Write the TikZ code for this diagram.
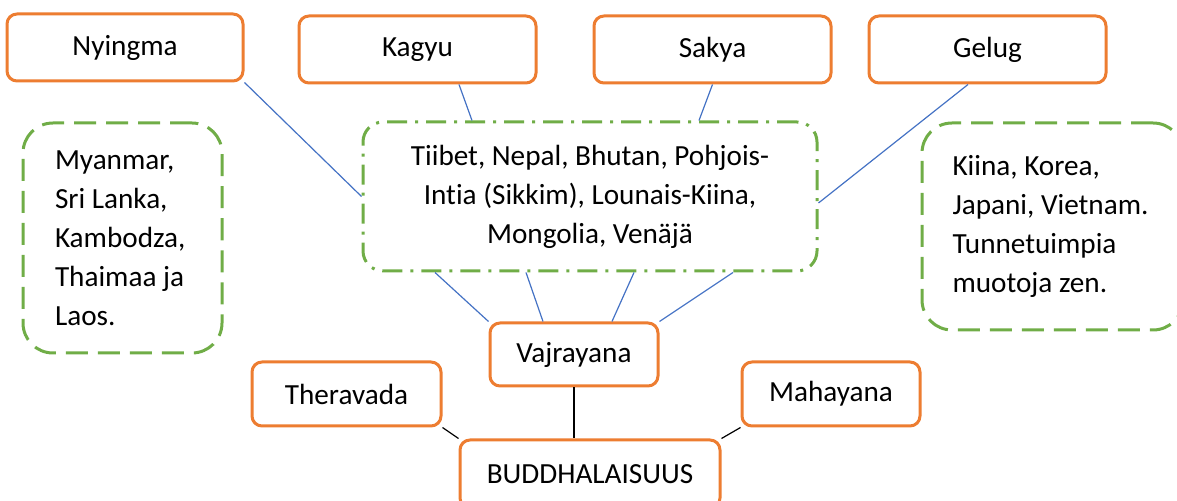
\documentclass[tikz,border=0pt]{standalone}
\usepackage{fontspec}
\setmainfont{Carlito}[Ligatures = NoCommon]
\definecolor{boxorange}{HTML}{ED7D31}
\definecolor{areagreen}{HTML}{70AD47}
\definecolor{linkblue}{HTML}{4472C4}
\begin{document}
\begin{tikzpicture}[x = .5pt, y = -.5pt, font = \fontsize{14.6}{19.5}\selectfont,
  link/.style = {linkblue, line width = .6pt},
  stem/.style = {black, line width = .6pt}]
\def\school{node [draw = boxorange, line width = 1.5pt, rounded corners = 5pt, fill = white, inner sep = 0] }
\def\area{node [draw = areagreen, line width = 1.5pt, rounded corners = 15pt, dash pattern = on 11pt off 5pt, align = flush left, inner xsep = 16pt, inner ysep = 0] }
\useasboundingbox (0, 0) rectangle (1177, 501);
\clip (0, 0) rectangle (1177, 501);

\draw (125, 47.5) \school [minimum width = 118pt, minimum height = 33.5pt] (nyingma) {Nyingma};
\draw (417.5, 49.5) \school [minimum width = 118.5pt, minimum height = 33.5pt] (kagyu) {Kagyu};
\draw (712.5, 49.5) \school [minimum width = 118.5pt, minimum height = 33.5pt] (sakya) {Sakya};
\draw (987.5, 49.5) \school [minimum width = 118.5pt, minimum height = 33.5pt] (gelug) {Gelug};
\draw (574, 354.5) \school [minimum width = 84pt, minimum height = 31.5pt] (vajra) {Vajrayana};
\draw (346.5, 394) \school [minimum width = 94.5pt, minimum height = 32pt] (thera) {Theravada};
\draw (831, 394) \school [minimum width = 89pt, minimum height = 32pt] (maha) {Mahayana};
\draw (590, 474) \school [minimum width = 130pt, minimum height = 34pt] (buddha) {BUDDHALAISUUS};

\draw (590, 196.5) node [draw = areagreen, line width = 1.5pt, rounded corners = 10pt, dash pattern = on 10pt off 4pt on 1.5pt off 4pt, align = center, minimum width = 227pt, minimum height = 74.5pt] (tibet) {Tiibet, Nepal, Bhutan, Pohjois-\\Intia (Sikkim), Lounais-Kiina,\\Mongolia, Venäjä};
\draw (122.5, 238) \area [text width = 67.5pt, minimum height = 115pt] (south) {Myanmar,\\Sri Lanka,\\Kambodza,\\Thaimaa ja\\Laos.};
\draw (1052.5, 226.5) \area [inner xsep = 15.25pt, text width = 100pt, minimum height = 103.5pt] (east) {Kiina, Korea,\\Japani, Vietnam.\\Tunnetuimpia\\muotoja zen.};

\draw [link] (nyingma.south east) -- (tibet.west);
\draw [link] ([xshift = 20.75pt] kagyu.south) -- ([xshift = -59pt] tibet.north);
\draw [link] (sakya.south) -- ([xshift = 54.5pt] tibet.north);
\draw [link] ([xshift = -9.75pt] gelug.south) -- ([yshift = -3.25pt] tibet.east);
\draw [link] ([xshift = -77.5pt] tibet.south) -- (vajra.north west);
\draw [link] ([xshift = -32pt] tibet.south) -- ([xshift = -15.5pt] vajra.north);
\draw [link] ([xshift = 22pt] tibet.south) -- ([xshift = 19pt] vajra.north);
\draw [link] ([xshift = 71.5pt] tibet.south) -- (vajra.north east);

\draw [stem] (thera.south east) -- (buddha.north west);
\draw [stem] (vajra.south) -- (vajra.south |- buddha.north);
\draw [stem] (maha.south west) -- (buddha.north east);

\end{tikzpicture}
\end{document}
